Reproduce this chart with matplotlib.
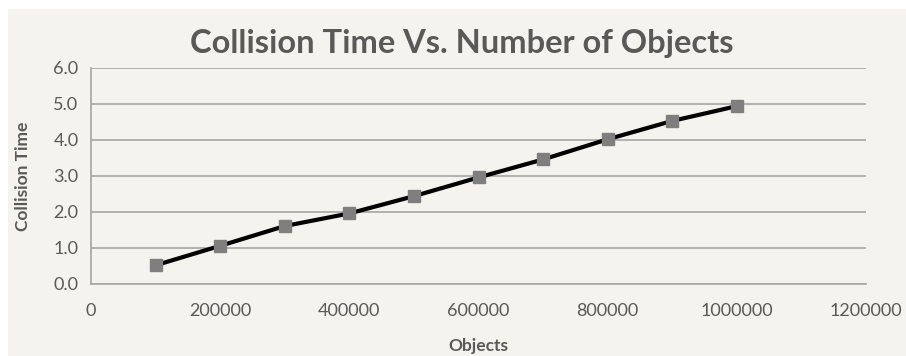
import matplotlib.pyplot as plt
from matplotlib.patches import Rectangle
from matplotlib.ticker import FormatStrFormatter

# datos
objetos = [100000, 200000, 300000, 400000, 500000, 600000, 700000, 800000, 900000, 1000000]
tiempo = [0.52, 1.06, 1.61, 1.96, 2.44, 2.96, 3.46, 4.02, 4.53, 4.94]

x_ticks = [0, 200000, 400000, 600000, 800000, 1000000, 1200000]
y_ticks = [0.0, 1.0, 2.0, 3.0, 4.0, 5.0, 6.0]

W, H = 906, 356
fondo = "#F4F3EE"
gris_texto = "#595959"
gris_linea = "#A6A6A6"

plt.rcParams['font.family'] = ['Lato', 'DejaVu Sans']

fig = plt.figure(figsize=(W / 100, H / 100), dpi=100)
fig.patch.set_facecolor("white")
fig.patches.append(Rectangle((8 / W, 0), 1 - 8 / W, 1 - 9 / H, transform=fig.transFigure,
                             facecolor=fondo, edgecolor="none", zorder=-10))

ax = fig.add_axes([91 / W, 1 - 284 / H, (866 - 91) / W, (284 - 68) / H])
ax.set_facecolor(fondo)
ax.set_zorder(1)

ax.plot(objetos, tiempo, color="black", linewidth=3, marker="s", markersize=8,
        markerfacecolor="#7F7F7F", markeredgecolor="#7F7F7F", zorder=3, clip_on=False)

ax.set_xlim(0, 1200000)
ax.set_ylim(0, 6)
ax.set_xticks(x_ticks)
ax.set_yticks(y_ticks)
ax.xaxis.set_major_formatter(FormatStrFormatter("%d"))
ax.yaxis.set_major_formatter(FormatStrFormatter("%.1f"))
ax.grid(axis="y", color=gris_linea, linewidth=1.2)
ax.set_axisbelow(True)

for lado in ["top", "right"]:
    ax.spines[lado].set_visible(False)
for lado in ["left", "bottom"]:
    ax.spines[lado].set_color(gris_linea)
    ax.spines[lado].set_linewidth(1.2)

ax.tick_params(length=0, labelsize=13, labelcolor=gris_texto)
ax.tick_params(axis="x", pad=14)
ax.tick_params(axis="y", pad=9)

ax.set_xlabel("Objects", fontsize=12.5, fontweight="bold", color=gris_texto, labelpad=13)
ax.set_ylabel("Collision Time", fontsize=12.5, fontweight="bold", color=gris_texto, labelpad=16)

fig.text(462 / W, 1 - 44 / H, "Collision Time Vs. Number of Objects", ha="center", va="center",
         fontsize=23.5, fontweight="bold", color=gris_texto)

fig.savefig("out.png", dpi=100, facecolor=fig.get_facecolor())
